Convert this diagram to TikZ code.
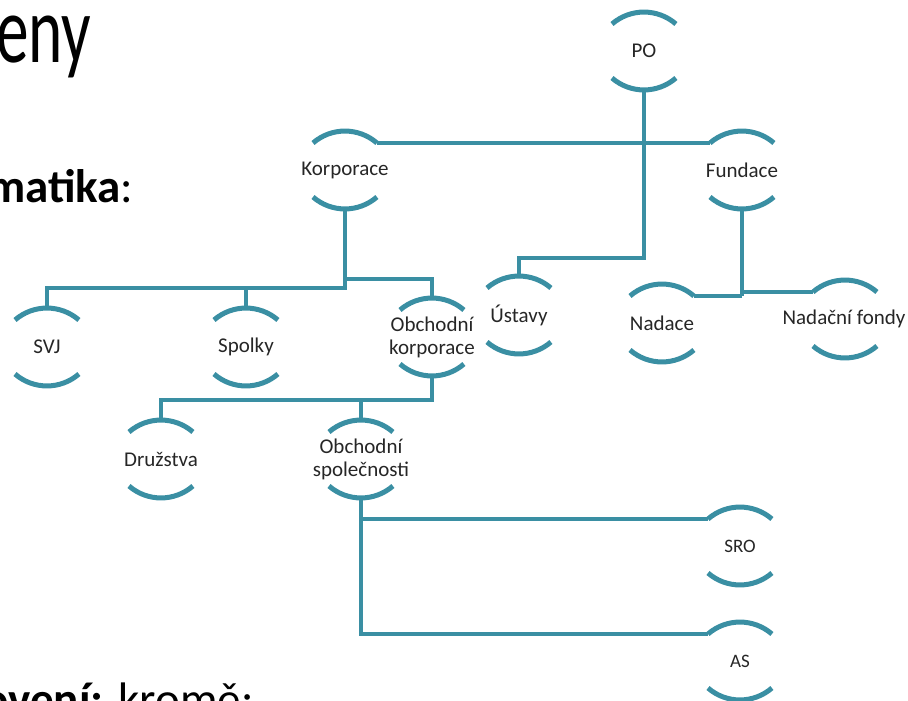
\documentclass[tikz,border=0pt]{standalone}
\usepackage{fontspec}
\usepackage{graphicx}
\setmainfont{Carlito}
\definecolor{teal1}{HTML}{3A8FA3}
\definecolor{txt}{HTML}{262626}
\begin{document}
\begin{tikzpicture}[x=1pt,y=1pt,
  bracket/.style={inner sep=0pt, align=center, font=\fontsize{21}{23}\selectfont, text=txt},
  smallbracket/.style={bracket, font=\fontsize{19}{21}\selectfont},
  link/.style={draw=teal1, line width=4.5pt},
  arcline/.style={draw=teal1, line width=5pt},
  bigtext/.style={anchor=base west, inner sep=0pt, text=black}
]
\useasboundingbox (0,0) rectangle (908,-701);
\clip (0,0) rectangle (908,-701);

% slide text
\node[bigtext, font=\fontsize{96}{96}\selectfont] (title) at (-4,-63) {\scalebox{0.68}[1]{eny}};
\node[bigtext, font=\fontsize{47}{47}\selectfont] (sys) at (-13,-202) {\bfseries matika\mdseries:};
\node[bigtext, font=\fontsize{47}{47}\selectfont] (bot) at (-17,-715) {\bfseries ovení:\mdseries\hspace{15pt}kromě:};

% nodes
\node[bracket] (po)   at (644,-51)  {PO};
\node[bracket] (korp) at (345,-170) {Korporace};
\node[bracket] (fund) at (742,-170) {Fundace};
\node[bracket] (ust)  at (519,-315) {Ústavy};
\node[bracket] (nad)  at (662,-323) {Nadace};
\node[bracket] (nadf) at (844,-319) {Nadační fondy};
\node[bracket] (svj)  at (47,-347)  {SVJ};
\node[bracket] (spol) at (246,-347) {Spolky};
\node[bracket] (obk)  at (432,-337) {Obchodní\\korporace};
\node[bracket] (druz) at (161,-459) {Družstva};
\node[bracket] (obsp) at (361,-459) {Obchodní\\společnosti};
\node[smallbracket] (sro) at (740,-546) {SRO};
\node[smallbracket] (asn) at (740,-661) {AS};

% arcs and attachment points
\foreach \n/\cx in {po/0,korp/0,fund/0,ust/0,nad/0,nadf/1,svj/0,spol/0,obk/0,druz/0,obsp/0,sro/0,asn/0} {
  \coordinate (\n-c) at ([xshift=\cx pt]\n.center);
  \coordinate (\n-t)  at ([yshift=39pt]\n-c);
  \coordinate (\n-b)  at ([yshift=-39pt]\n-c);
  \coordinate (\n-tl) at ([shift={(-32pt,27pt)}]\n-c);
  \coordinate (\n-tr) at ([shift={(32pt,27pt)}]\n-c);
  \coordinate (\n-bl) at ([shift={(-32pt,-27pt)}]\n-c);
  \draw[arcline] (\n-tl) arc[start angle=131, end angle=49, radius=48.7];
  \draw[arcline] (\n-bl) arc[start angle=229, end angle=311, radius=48.7];
}

% connectors
\draw[link] (po-b) -- (po-b |- 0,-258) -| (ust-t);
\draw[link] (korp-tr) -- (fund-tl);

\draw[link] (korp-b) -- (korp-b |- 0,-288) -| (svj-t);
\draw[link] (korp-b |- 0,-288) -| (spol-t);
\draw[link] (korp-b |- 0,-279) -| (obk-t);

\draw[link] (obk-b) -- (obk-b |- 0,-400) -| (druz-t);
\draw[link] (obk-b |- 0,-400) -| (obsp-t);

\draw[link] (fund-b) -- (fund-b |- nad-tr);
\draw[link] (nad-tr) -- (fund-b |- nad-tr);
\draw[link] (fund-b |- nadf-tl) -- (nadf-tl);

\draw[link] (obsp-b) -- (obsp-b |- asn-tl) -- (asn-tl);
\draw[link] (obsp-b |- sro-tl) -- (sro-tl);
\end{tikzpicture}
\end{document}
